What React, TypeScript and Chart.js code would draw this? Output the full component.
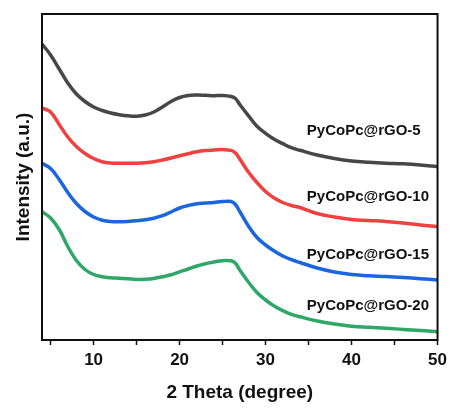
import React, { useEffect, useRef } from "react";
import { Chart, registerables } from "chart.js";

Chart.register(...registerables);

// 2θ positions (degree)
const twoTheta = [4, 5, 6, 7, 8, 9, 10, 11, 12, 13, 14, 15, 16, 17, 18, 19, 20, 21, 22, 23, 24, 25, 26, 26.5, 27, 28, 29, 30, 31, 32, 33, 34, 36, 38, 40, 42, 44, 46, 48, 50];

// Intensity (a.u., offset stacked)
const rgo5 = [296, 285, 271, 257, 246, 238.5, 233, 229.5, 227, 225.3, 224.2, 223.8, 225, 228, 233, 238.5, 242.5, 244.5, 245, 244.7, 244.3, 244.5, 243.5, 241.5, 235.5, 224.4, 213.8, 206.7, 200.8, 196.4, 192.3, 189.7, 185, 181.5, 179, 177.7, 176.8, 176.2, 175, 173.3];
const rgo10 = [232, 228, 215.5, 203, 193.5, 186.5, 181.5, 178.3, 177, 176.7, 176.7, 176.8, 177.3, 178.3, 180, 182, 184.2, 186.3, 188.3, 189.5, 190, 190.4, 189.6, 187, 181, 168, 157.5, 148.5, 142, 137.5, 134.5, 132.5, 126.5, 123, 120.5, 119.5, 118.5, 117, 115, 113.3];
const rgo15 = [176.7, 171.5, 160.5, 147.5, 136.5, 128.5, 123, 119.8, 118.5, 118.3, 118.6, 119.2, 120.2, 121.8, 124.3, 128, 132, 134.5, 136.3, 137, 137.6, 138.4, 138.5, 135.5, 128.5, 114, 102.5, 95, 89, 84, 80.3, 77.5, 72, 68, 65.5, 64.2, 63.5, 62.5, 61.3, 60];
const rgo20 = [128.3, 122, 110.5, 93.5, 79.5, 70.5, 65.5, 63.2, 62.2, 61.8, 61.2, 60.6, 60.8, 61.6, 63.2, 65.2, 68.2, 71, 74, 76.3, 78, 79.3, 79.2, 76.7, 70, 58, 47.5, 40, 34, 29.3, 25.7, 23.2, 19, 16, 13.8, 12.7, 11.8, 10.6, 9.5, 8.3];

const seriesNames = ["PyCoPc@rGO-5", "PyCoPc@rGO-10", "PyCoPc@rGO-15", "PyCoPc@rGO-20"];
const seriesColors = ["#474747", "#f04141", "#1b66df", "#2ea768"];

// in-plot label anchors (data units)
const labelX = 34.8;
const labelY = [209, 143, 85, 34];

const xTicks = [5, 10, 15, 20, 25, 30, 35, 40, 45, 50];
const xLabelled = [10, 20, 30, 40, 50];

const FONT = "'Liberation Sans', Arial, Helvetica, sans-serif";

const framePlugin = {
  id: "frame",
  afterDraw(chart: any) {
    const { ctx, chartArea } = chart;
    const { left, top, right, bottom } = chartArea;
    ctx.save();
    ctx.strokeStyle = "#111";
    ctx.lineWidth = 2;
    ctx.strokeRect(left, top, right - left, bottom - top);
    ctx.restore();
  },
};

const labelPlugin = {
  id: "seriesLabels",
  afterDatasetsDraw(chart: any) {
    const { ctx } = chart;
    const xs = chart.scales.x;
    const ys = chart.scales.y;
    ctx.save();
    ctx.font = `bold 15px ${FONT}`;
    ctx.textBaseline = "middle";
    ctx.textAlign = "left";
    ctx.fillStyle = "#111";
    seriesNames.forEach((n, i) => {
      ctx.fillText(n, xs.getPixelForValue(labelX), ys.getPixelForValue(labelY[i]));
    });
    ctx.restore();
  },
};

export default function App() {
  const ref = useRef<HTMLCanvasElement | null>(null);

  useEffect(() => {
    if (!ref.current) return;
    const allSeries = [rgo5, rgo10, rgo15, rgo20];
    const chart = new Chart(ref.current, {
      type: "line",
      data: {
        datasets: allSeries.map((s, i) => ({
          label: seriesNames[i],
          data: s.map((v, j) => ({ x: twoTheta[j], y: v })),
          borderColor: seriesColors[i],
          backgroundColor: seriesColors[i],
          borderWidth: 3.5,
          pointRadius: 0,
          tension: 0.4,
        })),
      },
      options: {
        animation: false,
        responsive: false,
        devicePixelRatio: 1,
        layout: { padding: { top: 14, right: 13, left: 0, bottom: 0 } },
        plugins: { legend: { display: false }, tooltip: { enabled: false } },
        scales: {
          x: {
            type: "linear",
            min: 4,
            max: 50,
            afterBuildTicks: (scale: any) => {
              scale.ticks = xTicks.map((v) => ({ value: v }));
            },
            afterFit: (scale: any) => {
              scale.height = 68;
            },
            grid: {
              display: true,
              drawOnChartArea: false,
              drawTicks: true,
              tickLength: 5,
              tickColor: "#111",
              tickWidth: 1.5,
            },
            border: { display: false },
            ticks: {
              autoSkip: false,
              maxRotation: 0,
              padding: 5,
              color: "#111",
              font: { family: FONT, size: 17, weight: "bold" },
              callback: (v: any) => (xLabelled.includes(Number(v)) ? String(v) : ""),
            },
            title: {
              display: true,
              text: "2 Theta (degree)",
              color: "#111",
              font: { family: FONT, size: 19, weight: "bold" },
              padding: { top: 0, bottom: 4 },
            },
          },
          y: {
            type: "linear",
            min: 0,
            max: 326,
            afterFit: (scale: any) => {
              scale.width = 42;
            },
            grid: { display: false },
            border: { display: false },
            ticks: { display: false },
            title: {
              display: true,
              text: "Intensity (a.u.)",
              color: "#111",
              font: { family: FONT, size: 19, weight: "bold" },
              padding: { top: 12, bottom: 0 },
            },
          },
        },
      },
      plugins: [framePlugin, labelPlugin],
    });
    return () => chart.destroy();
  }, []);

  return (
    <div style={{ position: "fixed", left: 0, top: 0, width: 452, height: 408, background: "#fff" }}>
      <canvas ref={ref} width={452} height={408} style={{ width: 452, height: 408, display: "block" }} />
    </div>
  );
}
